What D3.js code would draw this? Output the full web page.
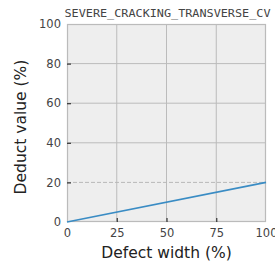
<!DOCTYPE html>
<html>
<head>
<meta charset="utf-8">
<script src="https://cdn.jsdelivr.net/npm/d3@7"></script>
<style>
  html, body { margin: 0; padding: 0; background: #fff; }
  svg { display: block; font-family: "DejaVu Sans", sans-serif; }
</style>
</head>
<body>
<div id="chart"></div>
<script>
const width = 275;
const height = 263;
const margin = { top: 24, right: 9, bottom: 41, left: 67 };

const title = "SEVERE_CRACKING_TRANSVERSE_CV";
const xTicks = [0, 25, 50, 75, 100];
const yTicks = [0, 20, 40, 60, 80, 100];
const defectWidth = [0, 100];
const deductValue = [0, 20];
const capValue = 20;

const usableArea = {
  top: margin.top,
  right: width - margin.right,
  bottom: height - margin.bottom,
  left: margin.left,
};

const svg = d3.select("#chart").append("svg")
  .attr("width", width)
  .attr("height", height);

const xScale = d3.scaleLinear().domain([0, 100]).range([usableArea.left, usableArea.right]);
const yScale = d3.scaleLinear().domain([0, 100]).range([usableArea.bottom, usableArea.top]);

// background
svg.append("rect")
  .attr("x", usableArea.left)
  .attr("y", usableArea.top)
  .attr("width", usableArea.right - usableArea.left)
  .attr("height", usableArea.bottom - usableArea.top)
  .attr("fill", "#eeeeee");

// gridlines
svg.append("g")
  .selectAll("line.vx")
  .data(xTicks.slice(1, -1))
  .join("line")
  .attr("x1", d => xScale(d)).attr("x2", d => xScale(d))
  .attr("y1", usableArea.top).attr("y2", usableArea.bottom)
  .attr("stroke", "#bbbbbb").attr("stroke-width", 1);

svg.append("g")
  .selectAll("line.hy")
  .data(yTicks.filter(d => d > 20 && d < 100))
  .join("line")
  .attr("y1", d => yScale(d)).attr("y2", d => yScale(d))
  .attr("x1", usableArea.left).attr("x2", usableArea.right)
  .attr("stroke", "#bbbbbb").attr("stroke-width", 1);

// dashed cap line
svg.append("line")
  .attr("x1", usableArea.left).attr("x2", usableArea.right)
  .attr("y1", yScale(capValue)).attr("y2", yScale(capValue))
  .attr("stroke", "#b8b8b8").attr("stroke-width", 1)
  .attr("stroke-dasharray", "4,2");

// frame
svg.append("rect")
  .attr("x", usableArea.left + 0.5)
  .attr("y", usableArea.top + 0.5)
  .attr("width", usableArea.right - usableArea.left - 1)
  .attr("height", usableArea.bottom - usableArea.top - 1)
  .attr("fill", "none")
  .attr("stroke", "#bbbbbb")
  .attr("stroke-width", 1.2);

// axes
const xAxis = svg.append("g")
  .attr("transform", `translate(0, ${usableArea.bottom})`)
  .call(d3.axisBottom(xScale).tickValues(xTicks).tickSize(-4).tickPadding(8));
const yAxis = svg.append("g")
  .attr("transform", `translate(${usableArea.left}, 0)`)
  .call(d3.axisLeft(yScale).tickValues(yTicks).tickSize(-4).tickPadding(8));

[xAxis, yAxis].forEach(ax => {
  ax.select(".domain").remove();
  ax.selectAll(".tick line").attr("stroke", "#333").attr("stroke-width", 1.2);
  ax.selectAll(".tick text")
    .attr("fill", "#444")
    .style("font-size", "11.5px")
    .style("font-family", "DejaVu Sans, sans-serif");
});
xAxis.selectAll(".tick").filter(d => d === 0 || d === 100).select("line").remove();
yAxis.selectAll(".tick").filter(d => d === 0 || d === 100).select("line").remove();
yAxis.selectAll(".tick text").attr("x", -6);
xAxis.selectAll(".tick text").attr("y", 7);

// data line
svg.append("path")
  .datum(d3.zip(defectWidth, deductValue))
  .attr("fill", "none")
  .attr("stroke", "#3a8cc4")
  .attr("stroke-width", 1.6)
  .attr("d", d3.line().x(d => xScale(d[0])).y(d => yScale(d[1])));

// title
svg.append("text")
  .attr("x", (usableArea.left + usableArea.right) / 2 + 1)
  .attr("y", 17)
  .attr("text-anchor", "middle")
  .attr("textLength", 206)
  .attr("lengthAdjust", "spacingAndGlyphs")
  .style("font-family", "DejaVu Sans Mono, monospace")
  .style("font-size", "11px")
  .attr("fill", "#444")
  .text(title);

// axis labels
svg.append("text")
  .attr("x", (usableArea.left + usableArea.right) / 2)
  .attr("y", 258)
  .attr("text-anchor", "middle")
  .style("font-size", "15.5px")
  .attr("fill", "#222")
  .text("Defect width (%)");

svg.append("text")
  .attr("transform", `translate(26, ${(usableArea.top + usableArea.bottom) / 2 + 4}) rotate(-90)`)
  .attr("text-anchor", "middle")
  .style("font-size", "15.5px")
  .attr("fill", "#222")
  .text("Deduct value (%)");
</script>
</body>
</html>
